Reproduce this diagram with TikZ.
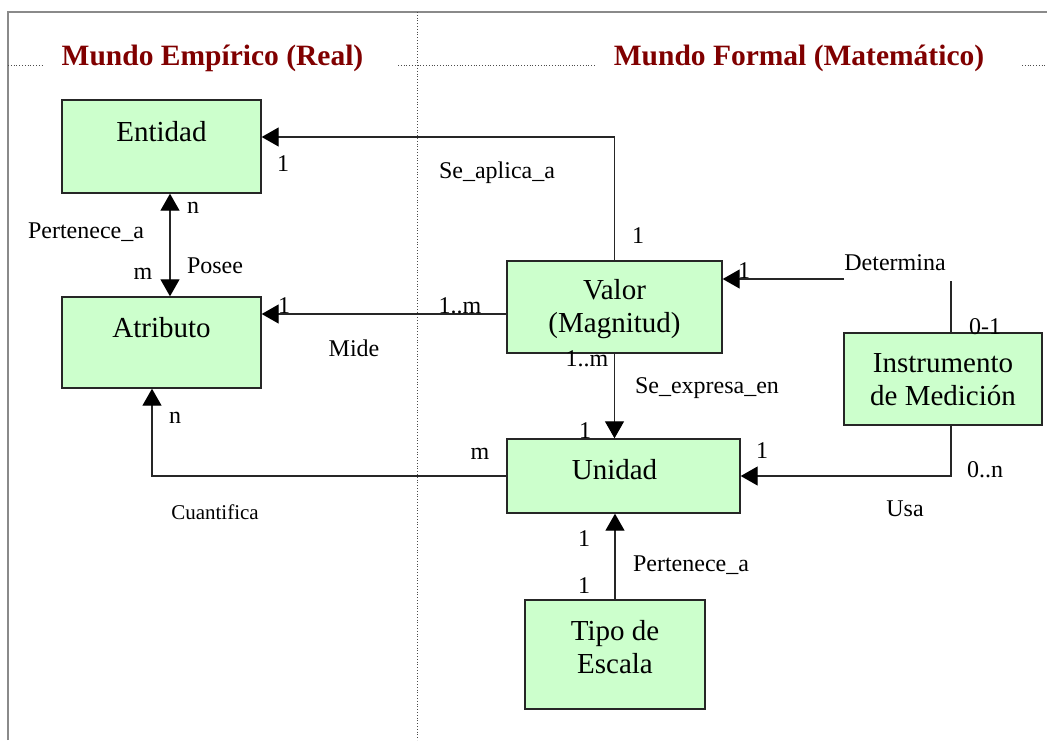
\documentclass[tikz,border=0pt]{standalone}
\usepackage{fontspec}
\setmainfont{Liberation Serif}
\usetikzlibrary{arrows.meta}
\definecolor{boxfill}{HTML}{CCFFCC}
\definecolor{titlered}{HTML}{800000}
\definecolor{framegray}{HTML}{8A8A8A}
\definecolor{linegray}{HTML}{262626}

\begin{document}
\begin{tikzpicture}[x=1pt,y=-1pt,
  entity/.style={draw=linegray, line width=1.4pt, fill=boxfill, inner sep=0pt},
  boxtext/.style={font=\fontsize{29}{33}\selectfont, align=center, inner sep=0pt},
  boxone/.style={boxtext, text height=19pt, text depth=0pt},
  lbl/.style={font=\fontsize{24}{28}\selectfont, inner sep=0pt, text height=16pt, text depth=0pt},
  smalllbl/.style={font=\fontsize{21}{25}\selectfont, inner sep=0pt, text height=14pt, text depth=0pt},
  title/.style={font=\fontsize{29.5}{33}\selectfont\bfseries, text=titlered, inner sep=0pt, anchor=base},
  conn/.style={draw=linegray, line width=1.3pt},
  tip/.style={Triangle[length=17pt,width=19pt,color=black]},
  arr/.style={conn, -{Triangle[length=17pt,width=19pt,color=black]}},
  darr/.style={conn, {Triangle[length=17pt,width=19pt,color=black]}-{Triangle[length=17pt,width=19pt,color=black]}},
  frame/.style={draw=framegray, line width=2pt},
  divider/.style={draw=black!70, line width=0.8pt, dotted}
]
\useasboundingbox[fill=white] (0,0) rectangle (1047,740);

% page frame and the two-world dividers
\draw[frame] (8,740) -- (8,12) -- (1047,12);
\draw[divider] (417,12) -- (417,740);
\draw[divider] (8,65) -- (42,65);
\draw[divider] (398,65) -- (595,65);
\draw[divider] (1022,65) -- (1047,65);

% headings
\node[title] (tReal) at (212.5,65) {Mundo Empírico (Real)};
\node[title] (tFormal) at (799,65) {Mundo Formal (Matemático)};

% entities
\node[entity, minimum width=199pt, minimum height=93pt] (ent) at (161.5,146.5) {};
\node[boxone] (entT) at (161.5,132) {Entidad};

\node[entity, minimum width=199pt, minimum height=91pt] (atr) at (161.5,342.5) {};
\node[boxone] (atrT) at (161.5,328) {Atributo};

\node[entity, minimum width=215pt, minimum height=92pt] (val) at (614.5,307) {};
\node[boxtext] (valT) at (614.5,309) {Valor\\(Magnitud)};

\node[entity, minimum width=198pt, minimum height=92pt] (ins) at (943,379) {};
\node[boxtext] (insT) at (943,380) {Instrumento\\de Medición};

\node[entity, minimum width=233pt, minimum height=74pt] (uni) at (623.5,476) {};
\node[boxone] (uniT) at (614.5,470) {Unidad};

\node[entity, minimum width=180pt, minimum height=109pt] (tip) at (615,654.5) {};
\node[boxtext] (tipT) at (615,647) {Tipo de\\Escala};

% relationships
\draw[arr] (val.north) |- ([yshift=9.5pt]ent.east);
\draw[darr] ([xshift=8.5pt]ent.south) -- ([xshift=8.5pt]atr.north);
\draw[arr] ([yshift=-7pt]val.west) -- ([yshift=28.5pt]atr.east);
\draw[arr] (val.south) -- (val.south |- uni.north);
\draw[arr] (uni.west) -| ([xshift=-9.5pt]atr.south);
\coordinate (detL) at (844,279);
\coordinate (detR) at (951,281);
\draw[arr] (detL) -- (detL -| val.east);
\draw[conn] (detR) -- (detR |- ins.north);
\draw[arr] ([xshift=8pt]ins.south) |- (uni.east);
\draw[arr] (tip.north) -- (tip.north |- uni.south);

% role names and cardinalities
\node[lbl] (l1) at (283,163) {1};
\node[lbl] (l2) at (497,170) {Se\_aplica\_a};
\node[lbl] (l3) at (638,235) {1};
\node[lbl] (l4) at (193,205) {n};
\node[lbl] (l5) at (86,230) {Pertenece\_a};
\node[lbl] (l6) at (143,271) {m};
\node[lbl] (l7) at (215,265) {Posee};
\node[lbl] (l8) at (284,305) {1};
\node[lbl] (l9) at (460,305) {1..m};
\node[lbl] (l10) at (354,348) {Mide};
\node[lbl] (l11) at (744,270) {1};
\node[lbl] (l12) at (895,262) {Determina};
\node[lbl] (l13) at (985,326) {0-1};
\node[lbl] (l14) at (587,358) {1..m};
\node[lbl] (l15) at (707,385) {Se\_expresa\_en};
\node[lbl] (l16) at (585,430) {1};
\node[lbl] (l17) at (175,415) {n};
\node[lbl] (l18) at (480,451) {m};
\node[smalllbl] (l19) at (215,512) {Cuantifica};
\node[lbl] (l20) at (762,450) {1};
\node[lbl] (l21) at (985,469) {0..n};
\node[lbl] (l22) at (905,508) {Usa};
\node[lbl] (l23) at (584,538) {1};
\node[lbl] (l24) at (584,585) {1};
\node[lbl] (l25) at (691,563) {Pertenece\_a};
\end{tikzpicture}
\end{document}
